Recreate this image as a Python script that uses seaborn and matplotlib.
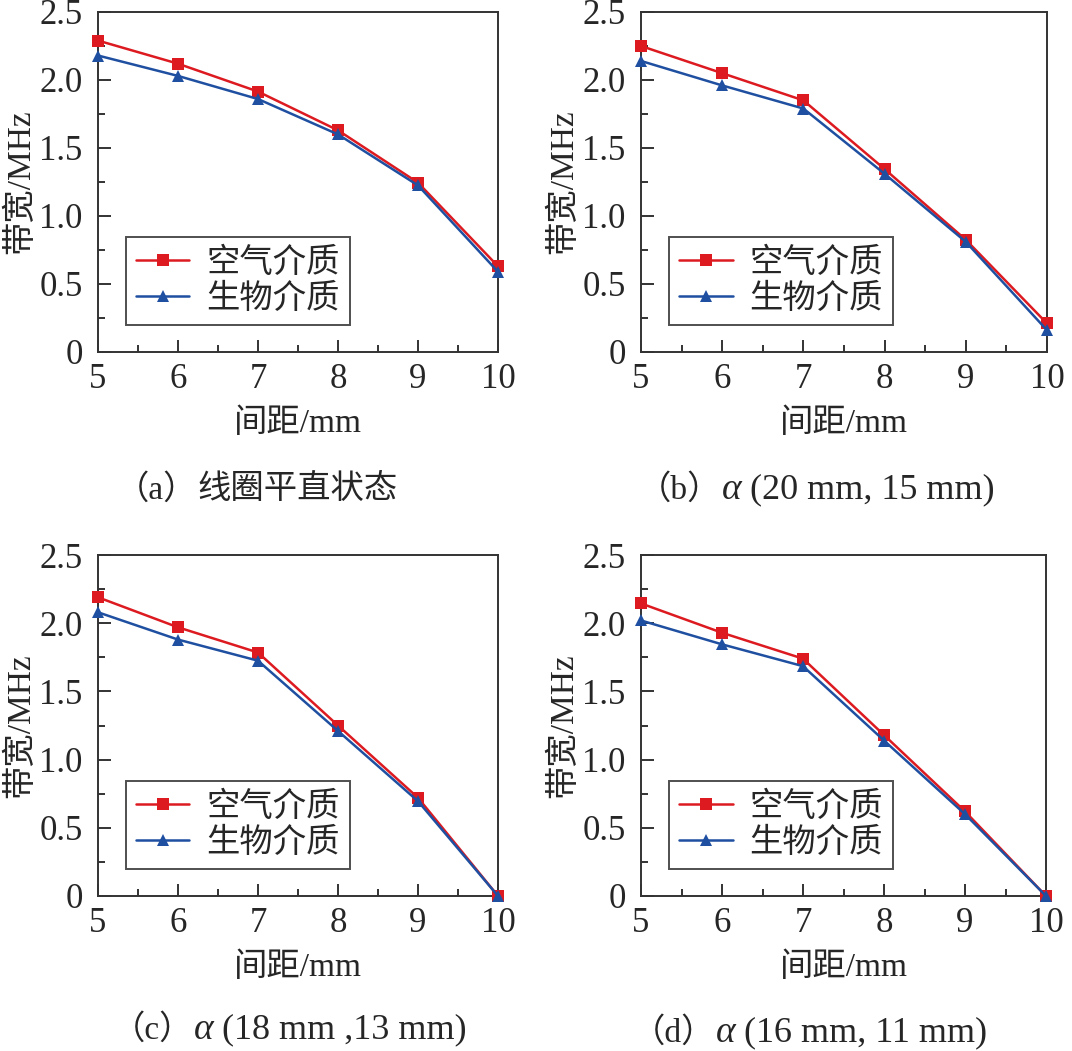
# Bandwidth vs coil spacing, four coil configurations (air vs biological medium)

import matplotlib
matplotlib.use("Agg")
import matplotlib.pyplot as plt
import numpy as np
import pandas as pd
import seaborn as sns


# --- Data --------------------------------------------------------------------
spacing_mm = [5, 6, 7, 8, 9, 10]

air_a = [2.29, 2.12, 1.915, 1.63, 1.245, 0.63]
bio_a = [2.18, 2.03, 1.86, 1.60, 1.225, 0.59]

air_b = [2.25, 2.05, 1.85, 1.345, 0.825, 0.21]
bio_b = [2.14, 1.96, 1.79, 1.31, 0.81, 0.16]

air_c = [2.19, 1.97, 1.785, 1.25, 0.72, 0.0]
bio_c = [2.08, 1.88, 1.725, 1.21, 0.695, 0.0]

air_d = [2.145, 1.93, 1.74, 1.18, 0.62, 0.0]
bio_d = [2.02, 1.845, 1.685, 1.14, 0.60, 0.0]

series_names = ["空气介质", "生物介质"]
y_ticks = [0, 0.5, 1.0, 1.5, 2.0, 2.5]
y_ticklabels = ["0", "0.5", "1.0", "1.5", "2.0", "2.5"]

captions = [
    ("（a）", "", "线圈平直状态"),
    ("（b）", "α", " (20 mm, 15 mm)"),
    ("（c）", "α", " (18 mm ,13 mm)"),
    ("（d）", "α", " (16 mm, 11 mm)"),
]


# --- Style -------------------------------------------------------------------
sns.set_style("white")
plt.rcParams["font.family"] = ["Liberation Serif", "Noto Sans CJK SC"]
plt.rcParams["axes.unicode_minus"] = False

RED = "#dc1a20"
BLUE = "#1f4fa0"
SPINE = "#333333"

fig = plt.figure(figsize=(10.72, 10.51), dpi=100)
W, H = 1072, 1051

# axes boxes in pixels: left, top, right, bottom
boxes = [
    (98, 12, 498, 352),
    (641, 12, 1047, 352),
    (98, 555, 498, 896),
    (641, 555, 1046, 896),
]
caption_pos = [(116, 490), (638, 490), (112, 1030), (632, 1033)]
panels = [(air_a, bio_a), (air_b, bio_b), (air_c, bio_c), (air_d, bio_d)]

for (l, t, r, b), (air, bio), cap, (cx, cy) in zip(boxes, panels, captions, caption_pos):
    ax = fig.add_axes([l / W, 1 - b / H, (r - l) / W, (b - t) / H])

    df = pd.DataFrame({
        "spacing": spacing_mm * 2,
        "bw": air + bio,
        "medium": [series_names[0]] * len(air) + [series_names[1]] * len(bio),
    })
    sns.lineplot(
        data=df, x="spacing", y="bw", hue="medium", style="medium",
        palette={series_names[0]: RED, series_names[1]: BLUE},
        markers={series_names[0]: "s", series_names[1]: "^"},
        dashes=False, markersize=9, linewidth=1.8, markeredgewidth=0,
        ax=ax, clip_on=False, zorder=3,
    )

    ax.set_xlim(5, 10)
    ax.set_ylim(0, 2.5)
    ax.set_xticks(spacing_mm)
    ax.set_xticklabels([str(v) for v in spacing_mm], fontsize=25)
    ax.set_yticks(y_ticks)
    ax.set_yticklabels(y_ticklabels, fontsize=25)
    ax.set_xticks(np.arange(5.5, 10, 1.0), minor=True)
    ax.set_yticks(np.arange(0.25, 2.5, 0.5), minor=True)
    ax.tick_params(which="major", direction="in", length=9, width=1.4,
                   color=SPINE, pad=8, left=True, bottom=True)
    ax.tick_params(which="minor", direction="in", length=5, width=1.4,
                   color=SPINE, left=True, bottom=True)
    ax.tick_params(axis="y", pad=11)
    for sp in ax.spines.values():
        sp.set_color(SPINE)
        sp.set_linewidth(1.4)

    ax.set_xlabel("间距/mm", fontsize=24, labelpad=9)
    ax.set_ylabel("带宽/MHz", fontsize=24, labelpad=2)

    leg = ax.legend(loc="lower left", bbox_to_anchor=(0.07, 0.08),
                    borderaxespad=0, fontsize=24, frameon=True, fancybox=False,
                    edgecolor="#222222", handlelength=1.6,
                    borderpad=0.3, labelspacing=0.15, handletextpad=0.5)
    leg.get_frame().set_linewidth(1.4)
    leg.set_title(None)

    # caption below each panel, built from pieces so alpha can be italic
    t1 = fig.text(cx / W, 1 - cy / H, cap[0], fontsize=24, va="center", ha="left")
    prev = t1
    if cap[1]:
        prev = ax.annotate(cap[1], xy=(1, 0.5), xycoords=prev, va="center",
                           ha="left", fontsize=27, style="italic",
                           annotation_clip=False)
    ax.annotate(cap[2], xy=(1, 0.5), xycoords=prev, va="center", ha="left",
                fontsize=26 if cap[1] else 24, annotation_clip=False)

fig.savefig("out.png", dpi=100)
plt.close(fig)
